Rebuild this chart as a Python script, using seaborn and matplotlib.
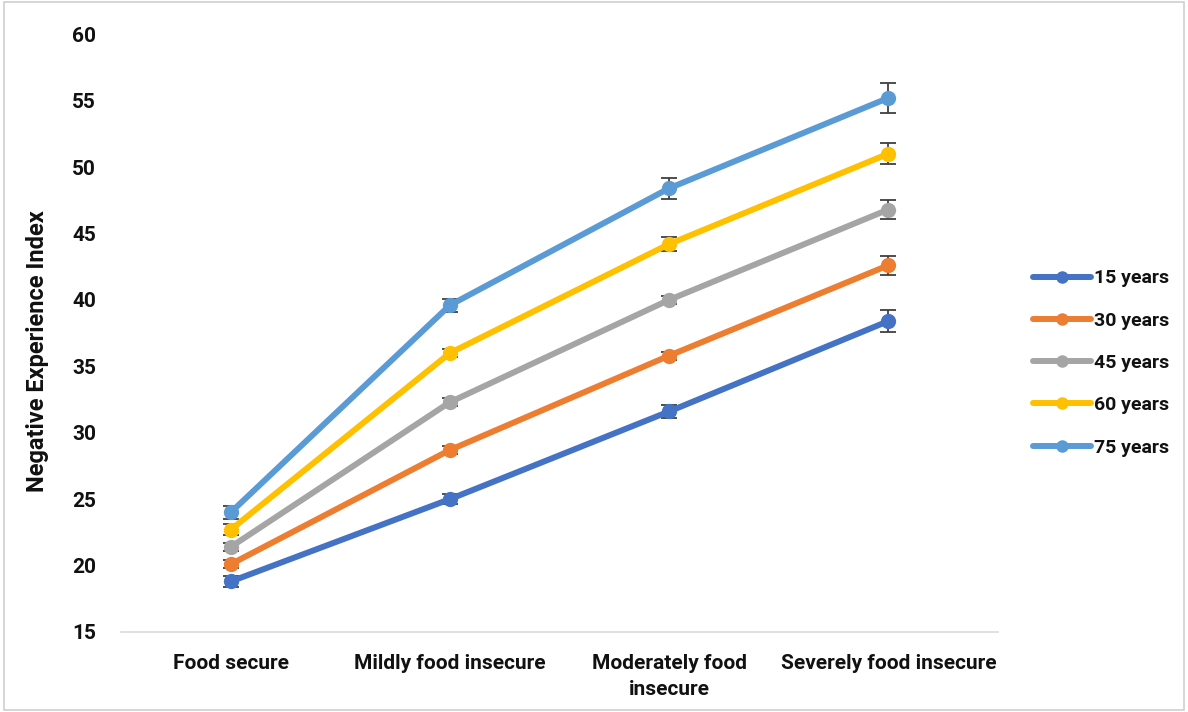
import numpy as np
import pandas as pd
import matplotlib
matplotlib.use("Agg")
import matplotlib.pyplot as plt
import seaborn as sns
from matplotlib.patches import Rectangle

categories = ["Food secure", "Mildly food insecure", "Moderately food\ninsecure", "Severely food insecure"]
groups = ["15 years", "30 years", "45 years", "60 years", "75 years"]

vals_15 = [18.8, 25.0, 31.6, 38.4]
vals_30 = [20.1, 28.7, 35.8, 42.6]
vals_45 = [21.4, 32.3, 40.0, 46.8]
vals_60 = [22.7, 36.0, 44.2, 51.0]
vals_75 = [24.0, 39.6, 48.4, 55.2]

err_15 = [0.4, 0.4, 0.5, 0.8]
err_30 = [0.3, 0.3, 0.3, 0.7]
err_45 = [0.3, 0.3, 0.3, 0.7]
err_60 = [0.4, 0.3, 0.5, 0.8]
err_75 = [0.5, 0.5, 0.8, 1.1]

colors = ["#4472C4", "#ED7D31", "#A5A5A5", "#FFC000", "#5B9BD5"]

values = [vals_15, vals_30, vals_45, vals_60, vals_75]
errors = [err_15, err_30, err_45, err_60, err_75]

rows = []
for g, v in zip(groups, values):
    for c, y in zip(categories, v):
        rows.append({"category": c, "group": g, "value": y})
df = pd.DataFrame(rows)

sns.set_style("white")
plt.rcParams["font.family"] = ["Roboto", "Liberation Sans", "DejaVu Sans"]
plt.rcParams["text.color"] = "#111111"
plt.rcParams["xtick.color"] = "#111111"
plt.rcParams["ytick.color"] = "#111111"

fig = plt.figure(figsize=(11.88, 7.12), dpi=100)
ax = fig.add_axes([0.102, 0.1124, 0.738, 0.8396])

# error bars first so lines sit on top
for i, (v, e) in enumerate(zip(values, errors)):
    ax.errorbar(np.arange(len(categories)), v, yerr=e, fmt="none",
                ecolor="#404040", elinewidth=1.3, capsize=6, capthick=1.3, zorder=1)

sns.lineplot(data=df, x="category", y="value", hue="group", palette=colors,
             marker="o", markersize=11, markeredgewidth=0, linewidth=4.3,
             sort=False, ax=ax, zorder=2)

ax.set_xlim(-0.5, 3.5)
ax.set_ylim(15, 60)
ax.set_yticks(range(15, 61, 5))
ax.set_xlabel("")
ax.set_ylabel("Negative Experience Index", fontsize=17, fontweight="bold", color="#111111")
ax.yaxis.set_label_coords(-0.082, 0.47)
ax.tick_params(axis="both", length=0, labelsize=15)
ax.tick_params(axis="x", pad=16)
ax.tick_params(axis="y", pad=18)
for lab in ax.get_xticklabels() + ax.get_yticklabels():
    lab.set_fontweight("bold")
for lab in ax.get_xticklabels():
    lab.set_linespacing(1.45)

for s in ["top", "right", "left"]:
    ax.spines[s].set_visible(False)
ax.spines["bottom"].set_color("#D9D9D9")
ax.spines["bottom"].set_linewidth(1.2)

handles, labels = ax.get_legend_handles_labels()
for h in handles:
    h.set_markersize(9)
leg = ax.legend(handles, labels, loc="center left", bbox_to_anchor=(1.02, 0.45),
                frameon=False, handlelength=3.0, labelspacing=1.25, handletextpad=0.15,
                prop={"weight": "bold", "size": 14})

fig.patches.append(Rectangle((0.003, 0.003), 0.994, 0.994, transform=fig.transFigure,
                             fill=False, edgecolor="#D0D0D0", linewidth=1.2))

fig.savefig("out.png", dpi=100)
